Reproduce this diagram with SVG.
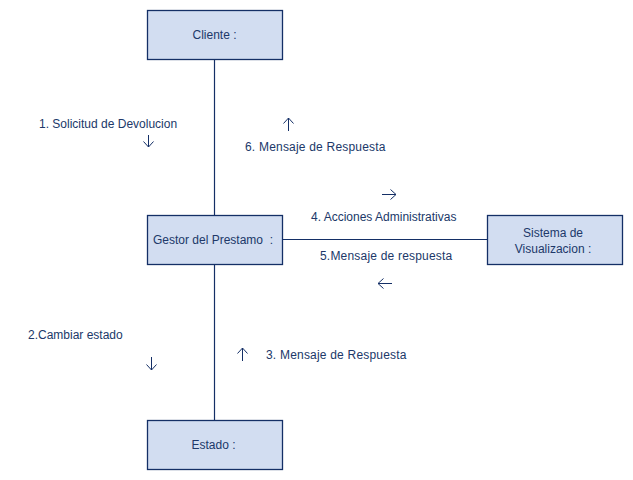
<svg xmlns="http://www.w3.org/2000/svg" width="633" height="480" viewBox="0 0 633 480">
<style>
.box{fill:#d2ddf1;stroke:#142f66;stroke-width:1.3}
.ln{stroke:#142f66;stroke-width:1.2;fill:none}
.ar{stroke:#142f66;stroke-width:1;fill:none}
text{font-family:"Liberation Sans",Arial,sans-serif;font-size:12px;fill:#203869}
.sp{letter-spacing:0.2px}
</style>
<rect width="633" height="480" fill="#ffffff"/>
<g id="connectors">
<line class="ln" x1="214.5" y1="59" x2="214.5" y2="215"/>
<line class="ln" x1="214.5" y1="264" x2="214.5" y2="420"/>
<line class="ln" x1="282" y1="239.5" x2="487" y2="239.5"/>
</g>
<g id="labels">
<text x="39" y="128">1. Solicitud de Devolucion</text>
<path class="ar" d="M148.5 135 V147 M143.5 141.5 L148.5 147 L153.5 141.5"/>
<text class="sp" x="245" y="151">6. Mensaje de Respuesta</text>
<path class="ar" d="M288.5 131 V118 M283.5 123.5 L288.5 118 L293.5 123.5"/>
<path class="ar" d="M382 194.5 H396 M390.5 189.5 L396 194.5 L390.5 199.5"/>
<text x="311" y="221">4. Acciones Administrativas</text>
<text class="sp" x="320" y="260">5.Mensaje de respuesta</text>
<path class="ar" d="M392 283.5 H378 M383.5 278.5 L378 283.5 L383.5 288.5"/>
<text x="28" y="339">2.Cambiar estado</text>
<path class="ar" d="M151.5 357 V370 M146.5 364.5 L151.5 370 L156.5 364.5"/>
<path class="ar" d="M242.5 361 V348 M237.5 353.5 L242.5 348 L247.5 353.5"/>
<text class="sp" x="266" y="359">3. Mensaje de Respuesta</text>
</g>
<g id="cliente">
<rect class="box" x="147.5" y="10.5" width="135" height="49"/>
<text x="214.5" y="39" text-anchor="middle">Cliente :</text>
</g>
<g id="gestor">
<rect class="box" x="147.5" y="215.5" width="135" height="49"/>
<text x="213" y="244" text-anchor="middle">Gestor del Prestamo &#160;:</text>
</g>
<g id="sistema">
<rect class="box" x="487.5" y="215.5" width="135" height="49"/>
<text x="553" y="237" text-anchor="middle">Sistema de</text>
<text x="553" y="253" text-anchor="middle">Visualizacion :</text>
</g>
<g id="estado">
<rect class="box" x="147.5" y="420.5" width="135" height="49"/>
<text x="213.5" y="449" text-anchor="middle">Estado :</text>
</g>
</svg>
